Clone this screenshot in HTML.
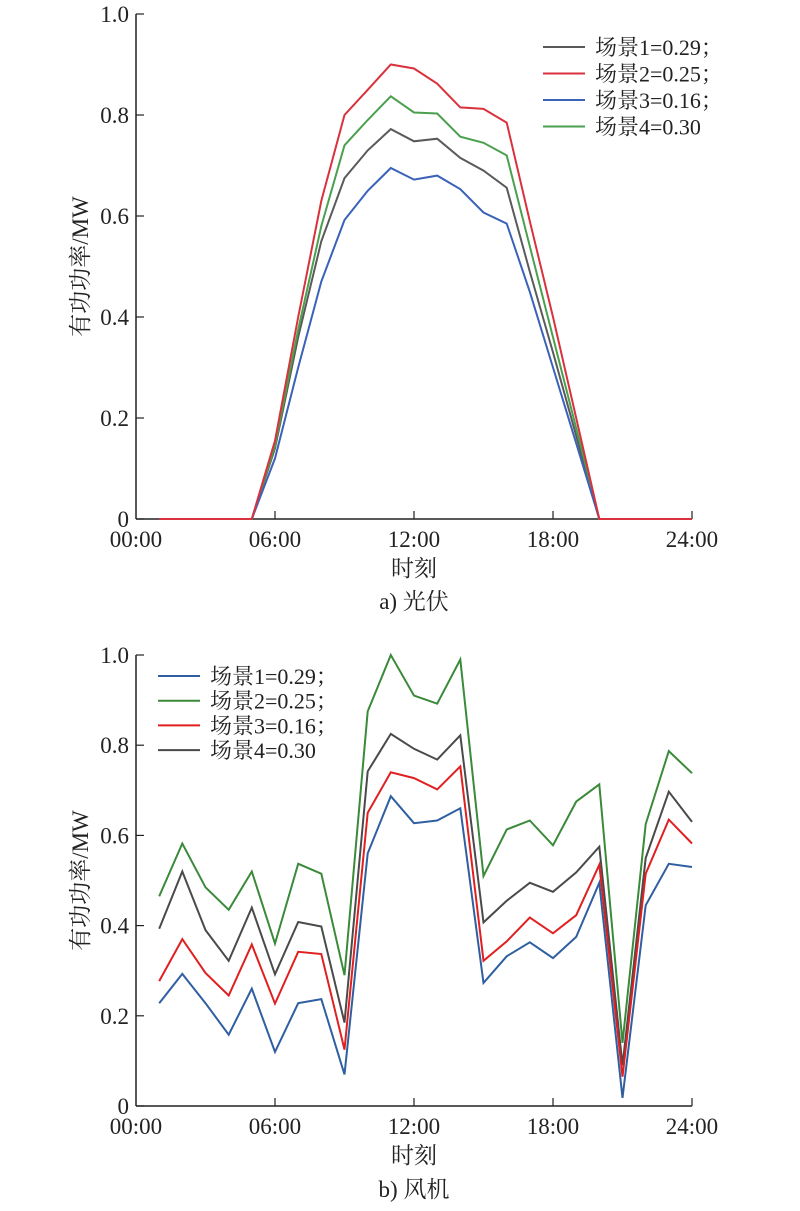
<!DOCTYPE html>
<html><head><meta charset="utf-8"><style>
body{margin:0;background:#fff}
svg text{font-family:"Liberation Serif","Noto Serif CJK SC",serif;fill:#222}
</style></head><body>
<svg id="s" width="800" height="1206" xmlns="http://www.w3.org/2000/svg"></svg>
<script>
const s=document.getElementById('s');let h='';
function chart(y0,ppu,data,legend,lx,ly,ldy,cap,capy){
  const x0=136,px=556/24;
  h+=`<line x1="${x0}" y1="${y0-ppu}" x2="${x0}" y2="${y0}" stroke="#222" stroke-width="1.5"/>`;
  h+=`<line x1="${x0}" y1="${y0}" x2="${x0+556}" y2="${y0}" stroke="#222" stroke-width="1.5"/>`;
  for(let i=0;i<=5;i++){const y=y0-ppu*i/5;
    h+=`<line x1="${x0}" y1="${y}" x2="${x0+8}" y2="${y}" stroke="#222" stroke-width="1.2"/>`;
    h+=`<text x="${x0-7}" y="${y+8}" font-size="23" text-anchor="end">${i==0?'0':(i/5).toFixed(1)}</text>`;}
  ['00:00','06:00','12:00','18:00','24:00'].forEach((t,i)=>{const x=x0+i*6*px;
    if(i>0)h+=`<line x1="${x}" y1="${y0}" x2="${x}" y2="${y0-8}" stroke="#222" stroke-width="1.2"/>`;
    h+=`<text x="${x}" y="${y0+28}" font-size="23" text-anchor="middle">${t}</text>`;});
  data.forEach(([c,v])=>{h+=`<polyline fill="none" stroke="${c}" stroke-width="2" points="${v.map((d,i)=>(x0+(i+1)*px).toFixed(1)+','+(y0-d*ppu).toFixed(1)).join(' ')}"/>`;});
  legend.forEach(([c,t],i)=>{const y=ly+i*ldy;
    h+=`<line x1="${lx}" y1="${y}" x2="${lx+42}" y2="${y}" stroke="${c}" stroke-width="2"/>`;
    h+=`<text x="${lx+52}" y="${y+8}" font-size="22">${t}</text>`;});
  h+=`<text x="414" y="${y0+57}" font-size="23" text-anchor="middle">时刻</text>`;
  h+=`<text x="414" y="${capy}" font-size="23" text-anchor="middle">${cap}</text>`;
  const cy=y0-ppu/2;
  h+=`<text transform="translate(88,${cy}) rotate(-90)" font-size="23" text-anchor="middle">有功功率/MW</text>`;
}
const z=[0,0,0,0,0];
chart(519,505,[
 ['#5a5a5a',[...z,.14,.36,.55,.675,.73,.772,.748,.753,.715,.69,.656,.49,.33,.165,0,0,0,0,0]],
 ['#4aa04f',[...z,.145,.375,.58,.74,.79,.837,.805,.803,.757,.745,.72,.54,.36,.18,0,0,0,0,0]],
 ['#3a62b8',[...z,.12,.3,.47,.592,.65,.695,.672,.68,.653,.607,.585,.45,.3,.15,0,0,0,0,0]],
 ['#d9323c',[...z,.155,.4,.63,.80,.85,.90,.892,.862,.815,.812,.785,.59,.4,.2,0,0,0,0,0]]
],[['#5a5a5a','场景1=0.29；'],['#d9323c','场景2=0.25；'],['#3a62b8','场景3=0.16；'],['#4aa04f','场景4=0.30']],543,47,26.5,'a) 光伏',609);
chart(1106,451,[
 ['#3a8a3a',[.465,.582,.485,.435,.52,.36,.537,.515,.29,.875,1.0,.91,.892,.99,.51,.613,.633,.578,.675,.713,.14,.625,.787,.738]],
 ['#4a4a4a',[.393,.52,.39,.322,.44,.292,.408,.398,.185,.742,.825,.792,.768,.822,.407,.455,.495,.475,.518,.575,.09,.55,.697,.63]],
 ['#e02020',[.277,.37,.295,.245,.358,.227,.342,.337,.125,.65,.74,.727,.702,.753,.322,.365,.418,.383,.423,.535,.065,.515,.635,.582]],
 ['#2f5fa0',[.228,.293,.228,.158,.26,.12,.228,.237,.07,.56,.687,.627,.633,.66,.273,.332,.363,.328,.375,.495,.018,.445,.537,.53]]
],[['#2f5fa0','场景1=0.29；'],['#3a8a3a','场景2=0.25；'],['#e02020','场景3=0.16；'],['#4a4a4a','场景4=0.30']],158,676,24.7,'b) 风机',1197);
s.innerHTML=h;
</script>
</body></html>
